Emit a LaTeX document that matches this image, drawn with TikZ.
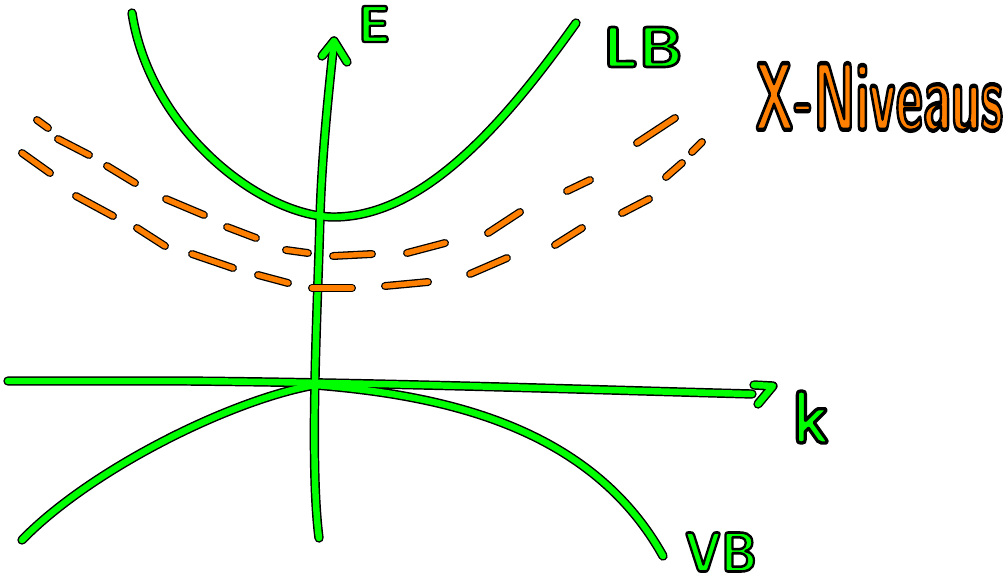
\documentclass[tikz,border=0pt]{standalone}
\usepackage{graphicx}

\definecolor{bandgreen}{RGB}{0,255,0}
\definecolor{levelorange}{RGB}{255,128,0}

\tikzset{
  edge/.style={draw=black, line width=8pt, line cap=round, line join=round},
  core/.style={draw=bandgreen, line width=5.5pt, line cap=round, line join=round},
  level/.style={draw=black, line width=1.1pt, double=levelorange, double distance=4.6pt, line cap=round},
  hand/.style={inner sep=0pt, font=\sffamily\bfseries\fontsize{40}{48}\selectfont}
}
% outlined text: fill with the node colour, stroke in black
\newcommand\handlabel[3]{\resizebox{#1}{#2}{\special{pdf:literal direct 2 Tr 1.8 w 1 j 0 0 0 RG}#3\special{pdf:literal direct 0 Tr}}}

\begin{document}
\begin{tikzpicture}[x=0.03cm, y=-0.03cm]
  \useasboundingbox (0,0) rectangle (1008,582);

  \coordinate (Ebot) at (319,538);
  \coordinate (Emid) at (320,217);
  \coordinate (Etip) at (334,41);
  \coordinate (kleft) at (8,381);
  \coordinate (ktip) at (752,394);
  \coordinate (O) at (315,385);

  % bands and axes: black edges first, green on top
  \foreach \ln in {edge,core} {
    \draw[\ln] (Ebot) .. controls (309,460) and (318,300) .. (Emid)
      .. controls (322,150) and (330,80) .. (Etip);
    \draw[\ln] (322,56) -- (Etip) -- (347,62);
    \draw[\ln] (kleft) -- (185,381) .. controls (400,383) and (600,390) .. (ktip);
    \draw[\ln] (754,385) -- (773,386) -- (758,404);
    % LB
    \draw[\ln] (132,13) .. controls (150,130) and (260,215) .. (332,217)
      .. controls (420,218) and (500,130) .. (576,23);
    % VB
    \draw[\ln] (22,540) .. controls (90,470) and (230,400) .. (O)
      .. controls (440,395) and (590,425) .. (663,556);
  }

  % X-levels
  \foreach \xa/\ya/\xb/\yb in {37/120/48/128, 58/139/89/155, 107/166/135/183, 166/199/204/215,
      227/227/256/238, 286/250/308/253, 333/256/372/254, 407/253/445/243,
      488/233/520/212, 567/191/590/180, 637/143/675/118,
      22/153/50/173, 76/196/113/216, 137/228/165/246, 192/254/233/268,
      258/275/288/283, 312/288/352/288, 385/286/428/282, 470/274/507/258,
      555/245/582/228, 622/213/649/199, 666/177/682/163, 692/152/702/142}
    \draw[level] (\xa,\ya) -- (\xb,\yb);

  % labels
  \node[hand, text=bandgreen] (Elabel) at (374,24) {\handlabel{0.96cm}{1.08cm}{E}};
  \node[hand, text=bandgreen] (LBlabel) at (643,47) {\handlabel{2.4cm}{1.2cm}{LB}};
  \node[hand, text=bandgreen] (klabel) at (811,417) {\handlabel{1.11cm}{1.56cm}{k}};
  \node[hand, text=bandgreen] (VBlabel) at (721,552) {\handlabel{2.16cm}{1.17cm}{VB}};
  \node[hand, text=levelorange] (Xlabel) at (879,97) {\handlabel{7.44cm}{2.0cm}{X-Niveaus}};
\end{tikzpicture}
\end{document}
